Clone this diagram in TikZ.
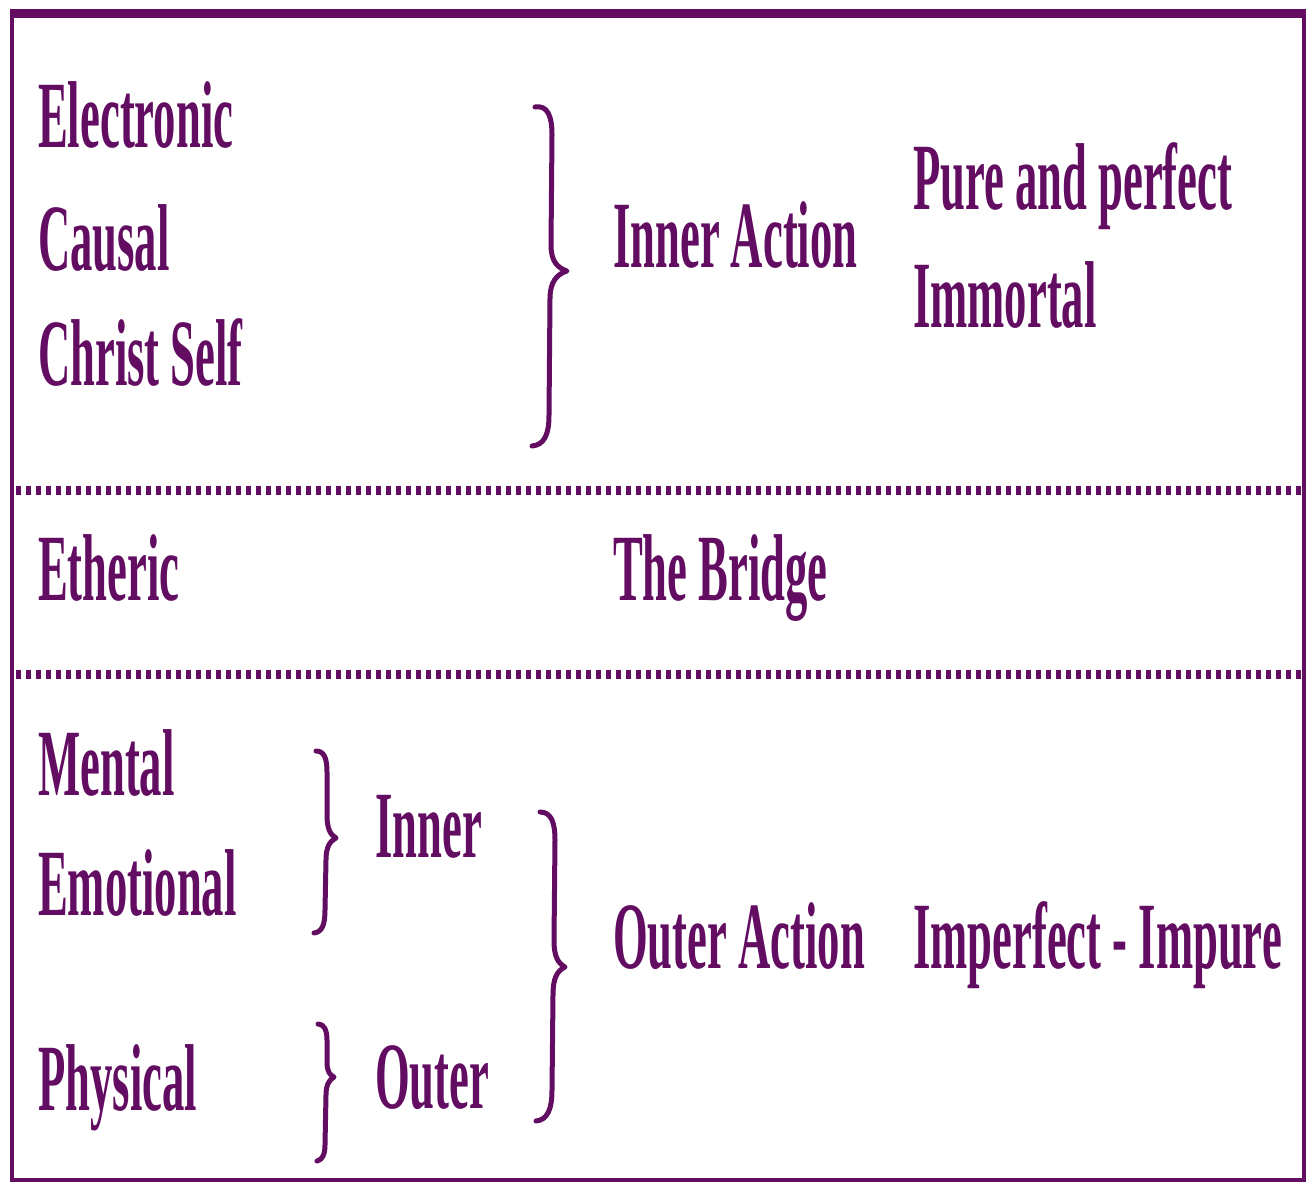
\documentclass[tikz,border=0pt]{standalone}
\usepackage{fontspec}
\setmainfont{Liberation Serif}[BoldFont={Liberation Serif Bold}]
\newfontfamily\labfont{Liberation Serif Bold}[FakeStretch=0.47]
\definecolor{plum}{RGB}{98,12,98}
\begin{document}
\begin{tikzpicture}[x=1pt,y=-1pt,
  lab/.style={anchor=base west,inner sep=0pt,text=plum,font=\labfont\fontsize{95}{100}\selectfont},
  framel/.style={draw=plum,line width=4.5pt},
  dotsep/.style={draw=plum,line width=9pt,dash pattern=on 5pt off 5pt},
  bracel/.style={draw=plum,line width=5pt,line cap=round,line join=round}]
\useasboundingbox (0,0) rectangle (1312,1185);
\fill[white] (0,0) rectangle (1312,1185);
% frame
\draw[framel] (12,14) -- (12,1180) -- (1304,1180) -- (1304,14);
\draw[draw=plum,line width=9pt] (10,14) -- (1306,14);
% separators
\draw[dotsep] (16,490) -- (1302,490);
\draw[dotsep] (16,674) -- (1302,674);
% labels
\node[lab] (electronic) at (38,148) {Electronic};
\node[lab] (causal) at (38,270) {Causal};
\node[lab] (christ) at (38,385) {Christ Self};
\node[lab] (etheric) at (38,600) {Etheric};
\node[lab] (mental) at (38,795) {Mental};
\node[lab] (emotional) at (38,915) {Emotional};
\node[lab] (physical) at (38,1110) {Physical};
\node[lab] (inner) at (375,857) {Inner};
\node[lab] (outer) at (375,1108) {Outer};
\node[lab] (inneraction) at (613,268) {Inner Action};
\node[lab] (bridge) at (613,600) {The Bridge};
\node[lab] (outeraction) at (613,968) {Outer Action};
\node[lab] (pure) at (913,210) {Pure and perfect};
\node[lab] (immortal) at (913,327) {Immortal};
\node[lab] (imperfect) at (913,968) {Imperfect - Impure};
% braces
\draw[bracel] (535,107) .. controls (547,105) and (552,115) .. (552,135) -- (551,245)
  .. controls (551,262) and (558,268) .. (567,271)
  .. controls (557,274) and (550,282) .. (550,298) -- (549,415)
  .. controls (549,435) and (544,445) .. (532,446);
\draw[bracel] (540,812) .. controls (551,812) and (555,822) .. (555,840) -- (554,940)
  .. controls (554,957) and (558,963) .. (565,967)
  .. controls (557,971) and (553,978) .. (553,995) -- (552,1090)
  .. controls (552,1110) and (547,1120) .. (536,1121);
\draw[bracel] (316,751) .. controls (324,751) and (327,758) .. (327,772) -- (327,815)
  .. controls (327,830) and (331,835) .. (336,838)
  .. controls (330,841) and (326,847) .. (326,860) -- (325,910)
  .. controls (325,925) and (322,932) .. (314,933);
\draw[bracel] (318,1024) .. controls (324,1024) and (327,1030) .. (327,1040) -- (327,1062)
  .. controls (327,1072) and (330,1075) .. (334,1077)
  .. controls (329,1080) and (326,1085) .. (326,1095) -- (325,1145)
  .. controls (325,1155) and (322,1160) .. (317,1161);
\end{tikzpicture}
\end{document}
